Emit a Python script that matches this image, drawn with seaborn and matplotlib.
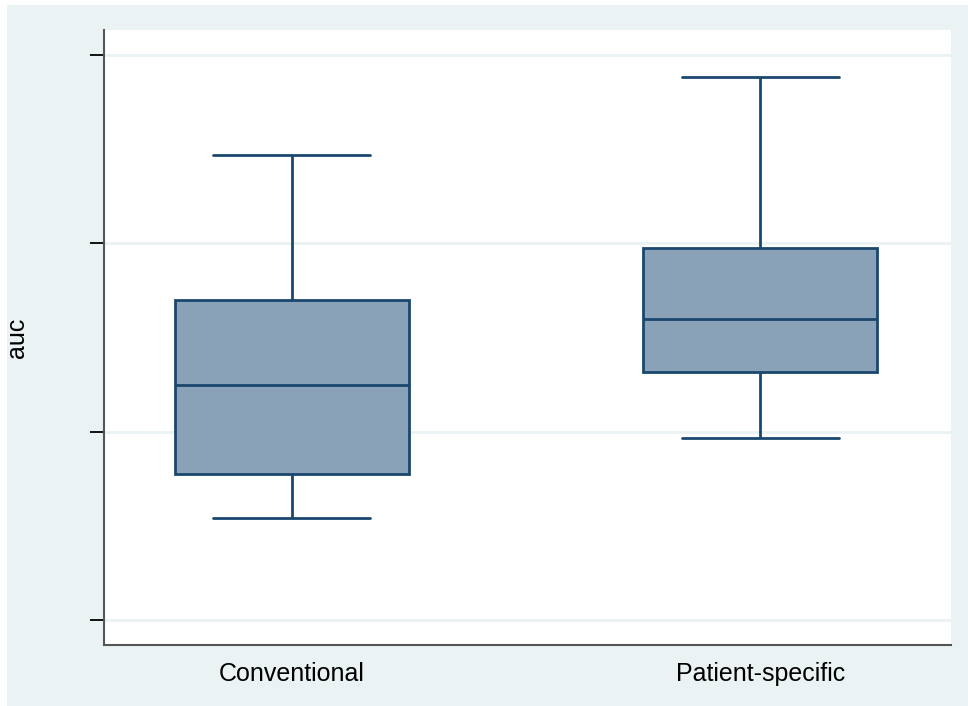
import numpy as np
import pandas as pd
import seaborn as sns
import matplotlib.pyplot as plt
from matplotlib.patches import Rectangle

# five-number summaries (min, q1, median, q3, max)
groups = ["Conventional", "Patient-specific"]
conventional = [0.508, 0.555, 0.650, 0.740, 0.894]
patient_specific = [0.593, 0.663, 0.720, 0.795, 0.977]
yticks = [0.4, 0.6, 0.8, 1.0]

df = pd.DataFrame({
    "group": [groups[0]] * len(conventional) + [groups[1]] * len(patient_specific),
    "auc": conventional + patient_specific,
})

sns.set_style("white")
plt.rcParams["font.family"] = ["Liberation Sans", "DejaVu Sans"]

bg = "#eaf2f3"
navy = "#1a476f"

fig = plt.figure(figsize=(9.68, 7.06), dpi=100)
fig.patch.set_facecolor("white")
fig.patches.append(Rectangle((7 / 968, 0), 1, 1 - 5 / 706, transform=fig.transFigure,
                             facecolor=bg, edgecolor="none", zorder=-10))
ax = fig.add_axes([104 / 968, 1 - 645 / 706, (951 - 104) / 968, (645 - 30) / 706])
ax.set_facecolor("white")

sns.boxplot(data=df, x="group", y="auc", ax=ax, whis=np.inf, width=0.5,
            color="#8aa2b8", linecolor=navy, linewidth=2, saturation=1,
            capwidths=0.335)

ax.set_xlim(-0.401, 1.407)
ax.set_ylim(0.3735, 1.0265)
ax.set_yticks(yticks)
ax.set_yticklabels([])
ax.yaxis.grid(True, color=bg, linewidth=2)
ax.set_axisbelow(True)
ax.tick_params(axis="y", left=True, length=10, width=1.3, color="black")
ax.tick_params(axis="x", bottom=False, length=0, pad=12, labelsize=18, labelcolor="black")
ax.set_xlabel("")
ax.set_ylabel("auc", fontsize=18, color="black")
ax.yaxis.set_label_coords(-0.0885, 0.5)

for s in ["top", "right"]:
    ax.spines[s].set_visible(False)
for s in ["left", "bottom"]:
    ax.spines[s].set_color("#555555")
    ax.spines[s].set_linewidth(1.5)

fig.savefig("out.png", dpi=100, facecolor=fig.get_facecolor())
